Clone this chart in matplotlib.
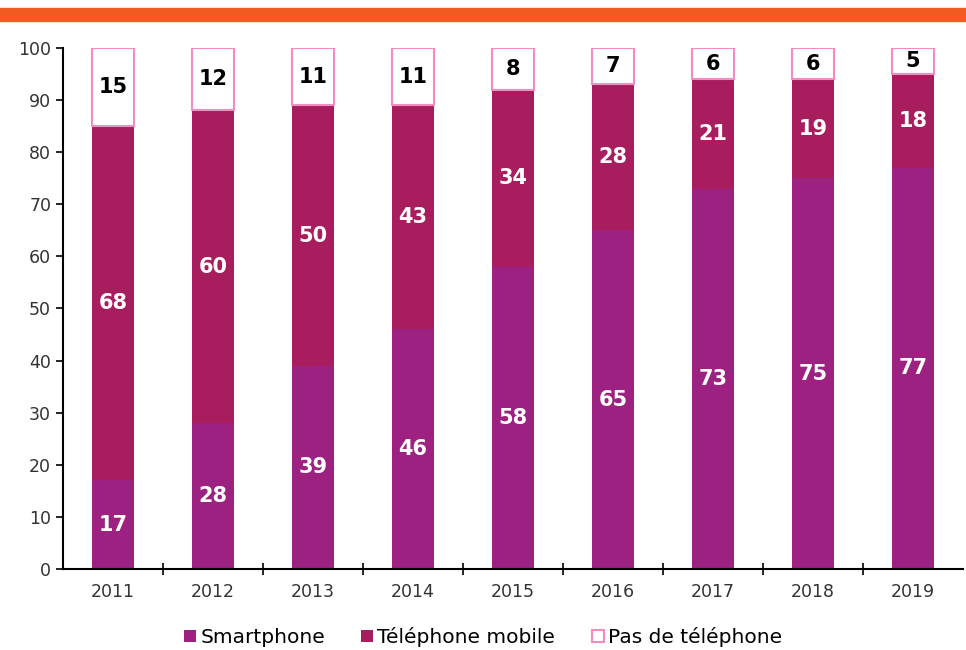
import numpy as np
import matplotlib.pyplot as plt
from matplotlib.patches import Rectangle

years = ["2011", "2012", "2013", "2014", "2015", "2016", "2017", "2018", "2019"]
smartphone = [17, 28, 39, 46, 58, 65, 73, 75, 77]
mobile = [68, 60, 50, 43, 34, 28, 21, 19, 18]
no_phone = [15, 12, 11, 11, 8, 7, 6, 6, 5]

c_smart = "#9C2180"
c_mobile = "#A81D5E"
c_none_edge = "#F28DC0"

fig = plt.figure(figsize=(9.66, 6.5), dpi=100)
fig.patches.append(Rectangle((0, 1 - 21 / 650), 1, 13 / 650, transform=fig.transFigure,
                             color="#F15A22", zorder=0))
ax = fig.add_axes([0.0652, 0.1246, 0.9318, 0.8016])

x = np.arange(len(years))
w = 0.42
sm = np.array(smartphone)
mo = np.array(mobile)
no = np.array(no_phone)
b1 = ax.bar(x, sm, w, color=c_smart, label="Smartphone")
b2 = ax.bar(x, mo, w, bottom=sm, color=c_mobile, label="Téléphone mobile")
b3 = ax.bar(x, no, w, bottom=sm + mo, color="white", edgecolor=c_none_edge,
            linewidth=1.5, label="Pas de téléphone")

for i in range(len(years)):
    ax.text(x[i], sm[i] / 2, str(sm[i]), ha="center", va="center", color="white",
            fontsize=15, fontweight="bold")
    ax.text(x[i], sm[i] + mo[i] / 2, str(mo[i]), ha="center", va="center", color="white",
            fontsize=15, fontweight="bold")
    ax.text(x[i], sm[i] + mo[i] + no[i] / 2, str(no[i]), ha="center", va="center",
            color="black", fontsize=15, fontweight="bold")

ax.set_xlim(-0.5, len(years) - 0.5)
ax.set_ylim(0, 100)
ax.set_yticks(range(0, 101, 10))
ax.set_xticks(np.arange(0.5, len(years) - 1, 1))
ax.set_xticklabels([])
ax.set_xticks(x, minor=True)
ax.set_xticklabels(years, minor=True)
ax.tick_params(axis="x", which="minor", length=0, pad=10, labelsize=12.5, labelcolor="#333333")
ax.tick_params(axis="x", which="major", direction="inout", length=8, width=1.2)
ax.tick_params(axis="y", direction="out", length=5, width=1.2, labelsize=12.5, labelcolor="#333333")
for s in ["top", "right"]:
    ax.spines[s].set_visible(False)
for s in ["left", "bottom"]:
    ax.spines[s].set_linewidth(1.5)

fig.legend(handles=[b1, b2, b3], loc="center", bbox_to_anchor=(0.5, 1 - 637 / 650),
           ncol=3, frameon=False, fontsize=14.5, handlelength=0.6, handleheight=0.6,
           handletextpad=0.2, columnspacing=1.8)

fig.savefig("out.png")
